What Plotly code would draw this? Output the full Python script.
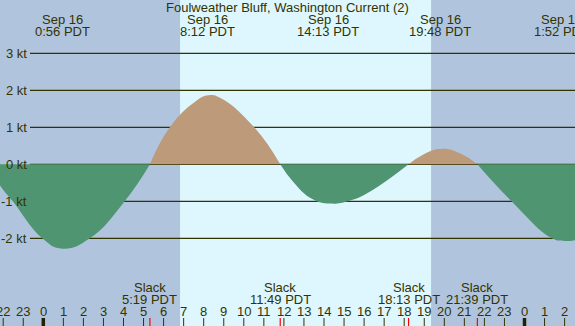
import plotly.graph_objects as go

# ---------------- data (hours relative to Sep 16 00:00 PDT) ----------------
title_text = "Foulweather Bluff, Washington Current (2)"

hour_ticks = list(range(-2, 27))
hour_labels = [str(h % 24) for h in hour_ticks]

kt_levels = [3, 2, 1, 0, -1, -2]
kt_labels = ["3 kt", "2 kt", "1 kt", "0 kt", "-1 kt", "-2 kt"]

peak_times = [0.933, 8.2, 14.217, 19.8, 25.867]
peak_dates = ["Sep 16", "Sep 16", "Sep 16", "Sep 16", "Sep 17"]
peak_labels = ["0:56 PDT", "8:12 PDT", "14:13 PDT", "19:48 PDT", "1:52 PDT"]

slack_times = [-2.87, 5.317, 11.817, 18.217, 21.65]
slack_labels = ["21:08 PDT", "5:19 PDT", "11:49 PDT", "18:13 PDT", "21:39 PDT"]

sunrise = 6.82
sunset = 19.34

# current curve, one list per lobe
lobe_hours = [
    [-2.82, -2.16, -1.52, -0.05, 0.95, 2.32, 4.06, 5.317],
    [5.317, 6.31, 7.54, 8.23, 8.81, 10.52, 11.817],
    [11.817, 12.47, 13.39, 14.3, 15.22, 16.13, 18.217],
    [18.217, 18.87, 19.88, 20.88, 21.65],
    [21.65, 23.35, 25.37, 26.0, 26.52, 27.0],
]
lobe_knots = [
    [0, -0.57, -1.0, -2.0, -2.28, -2.0, -1.0, 0],
    [0, 1.0, 1.68, 1.865, 1.8, 1.0, 0],
    [0, -0.48, -0.93, -1.06, -0.99, -0.79, 0],
    [0, 0.24, 0.42, 0.27, 0],
    [0, -1.0, -2.0, -2.07, -2.05, -1.98],
]

# ---------------- style ----------------
W, H = 575, 326
NIGHT = "#b0c4de"
DAY = "#def6fd"
FLOOD = "#bc9a7a"
EBB = "#4f9571"
INK = "#333300"
FONT = "Liberation Sans, Arial, sans-serif"

X0 = -43.3 / 20.05
X1 = (W - 43.3) / 20.05
Y1 = 164.3 / 37.0
Y0 = -(H - 164.3) / 37.0


def py(px):
    """pixel from top -> paper y"""
    return 1 - px / H


fig = go.Figure()

for hs, ks in zip(lobe_hours, lobe_knots):
    positive = max(ks) > 0
    fig.add_trace(go.Scatter(
        x=hs, y=ks, mode="lines",
        line=dict(shape="spline", smoothing=1.3, width=0, color=FLOOD if positive else EBB),
        fill="tozeroy", fillcolor=FLOOD if positive else EBB, hoverinfo="skip",
    ))

shapes = []
# daylight band
shapes.append(dict(type="rect", xref="x", yref="paper", x0=sunrise, x1=sunset, y0=0, y1=1,
                   fillcolor=DAY, line=dict(width=0), layer="below"))
# kt grid lines
for v in kt_levels:
    shapes.append(dict(type="line", xref="paper", yref="y", x0=30 / W, x1=1, y0=v, y1=v,
                       line=dict(color=INK, width=1.2), layer="below"))
# hour ticks
for h in hour_ticks:
    midnight = (h % 24 == 0)
    shapes.append(dict(type="line", xref="x", yref="paper", x0=h, x1=h, y0=0, y1=8 / H,
                       line=dict(color="#222200" if midnight else INK, width=3.5 if midnight else 1)))
# slack ticks
for t in slack_times:
    shapes.append(dict(type="line", xref="x", yref="paper", x0=t, x1=t, y0=0, y1=8 / H,
                       line=dict(color="red", width=1.2)))

ann = []
f = dict(family=FONT, size=13, color=INK)
ann.append(dict(text=title_text, x=0.5, y=py(7.3), xref="paper", yref="paper",
                showarrow=False, font=f, xanchor="center", yanchor="middle"))
for v, lab in zip(kt_levels, kt_labels):
    ann.append(dict(text=lab, x=28.5 / W, y=v, xref="paper", yref="y", showarrow=False,
                    font=f, xanchor="right", yanchor="middle"))
for t, d, lab in zip(peak_times, peak_dates, peak_labels):
    ann.append(dict(text=d, x=t, y=py(20), xref="x", yref="paper", showarrow=False,
                    font=f, xanchor="center", yanchor="middle"))
    ann.append(dict(text=lab, x=t, y=py(31.7), xref="x", yref="paper", showarrow=False,
                    font=f, xanchor="center", yanchor="middle"))
for t, lab in zip(slack_times, slack_labels):
    ann.append(dict(text="Slack", x=t, y=py(287.3), xref="x", yref="paper", showarrow=False,
                    font=f, xanchor="center", yanchor="middle"))
    ann.append(dict(text=lab, x=t, y=py(299.3), xref="x", yref="paper", showarrow=False,
                    font=f, xanchor="center", yanchor="middle"))
for h, lab in zip(hour_ticks, hour_labels):
    ann.append(dict(text=lab, x=h, y=py(311.7), xref="x", yref="paper", showarrow=False,
                    font=f, xanchor="center", yanchor="middle"))

fig.update_layout(
    width=W, height=H, margin=dict(l=0, r=0, t=0, b=0),
    paper_bgcolor=NIGHT, plot_bgcolor=NIGHT, showlegend=False,
    xaxis=dict(range=[X0, X1], visible=False, fixedrange=True),
    yaxis=dict(range=[Y0, Y1], visible=False, fixedrange=True),
    shapes=shapes, annotations=ann,
)

fig.write_html(
    "out.html",
    config=dict(displayModeBar=False),
    post_script="document.body.style.margin='0';document.body.style.padding='0';"
                "document.body.style.overflow='hidden';",
)
